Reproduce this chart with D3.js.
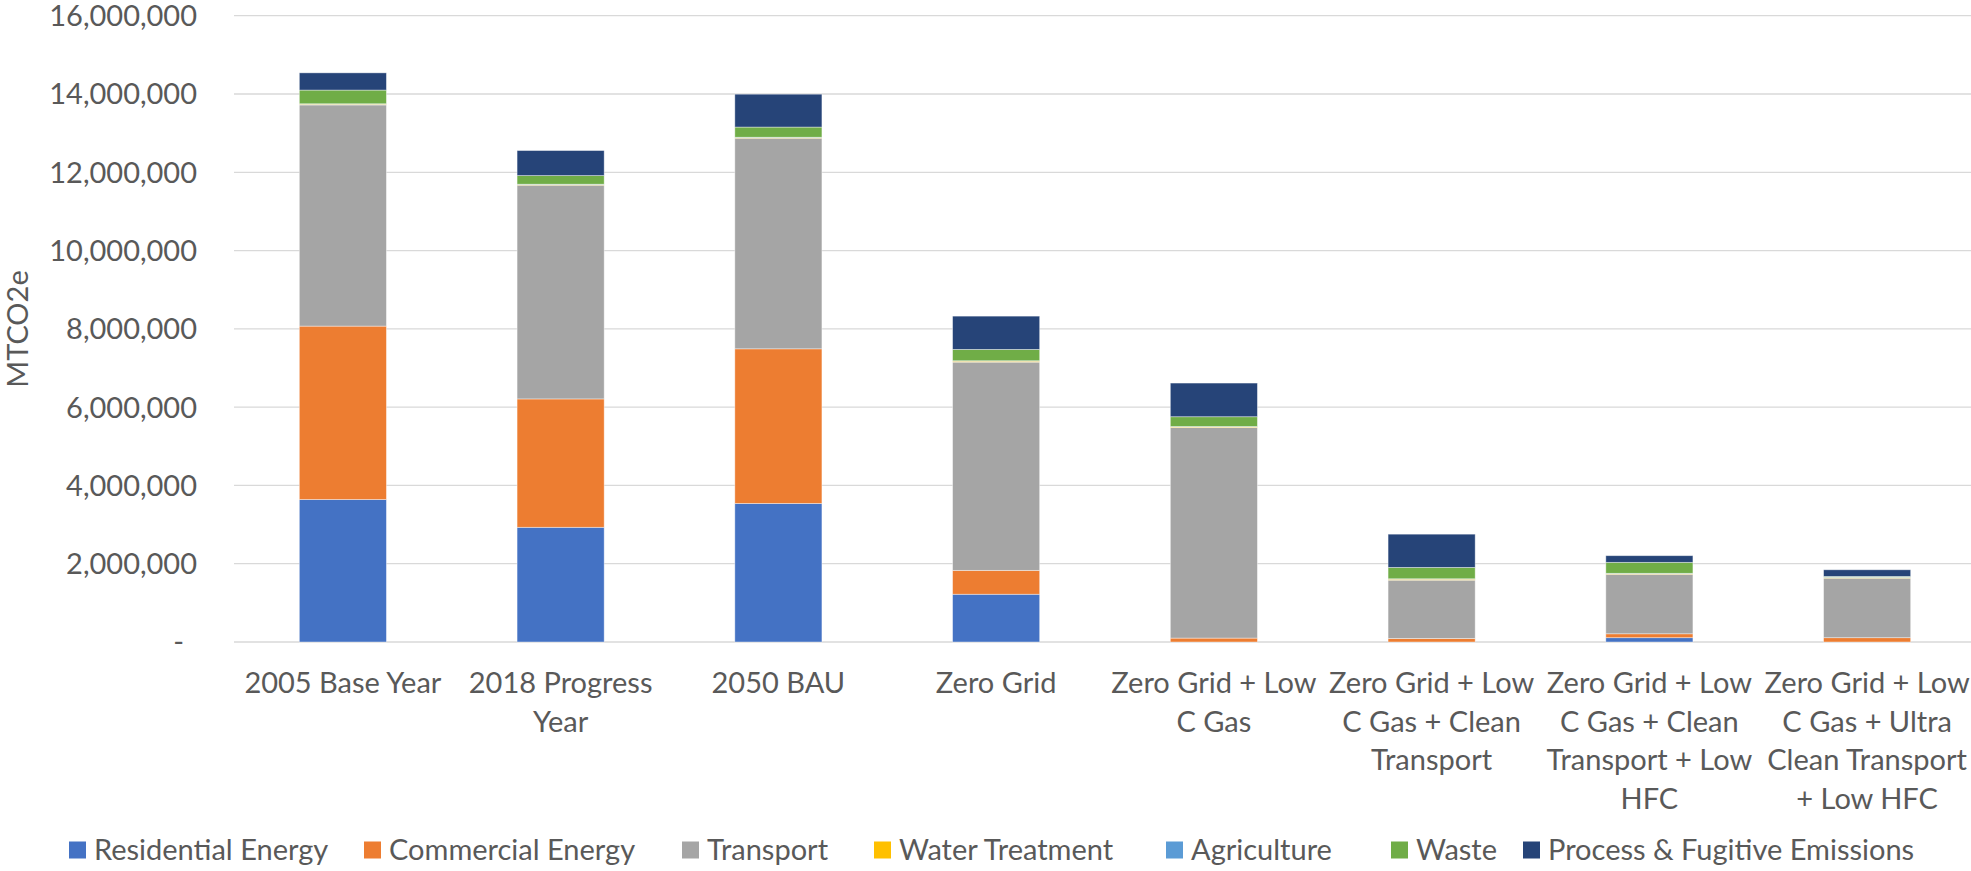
<!DOCTYPE html>
<html>
<head>
<meta charset="utf-8">
<script src="https://cdn.jsdelivr.net/npm/d3@7"></script>
<style>
    body { margin: 0; background: #fff; }
    text { font-family: Lato, "Open Sans", sans-serif; fill: #595959; }
</style>
</head>
<body>
<div id="container"></div>
<script>
// Categories (line breaks as they wrap under the axis)
const categories = [
    "2005 Base Year",
    "2018 Progress\nYear",
    "2050 BAU",
    "Zero Grid",
    "Zero Grid + Low\nC Gas",
    "Zero Grid + Low\nC Gas + Clean\nTransport",
    "Zero Grid + Low\nC Gas + Clean\nTransport + Low\nHFC",
    "Zero Grid + Low\nC Gas + Ultra\nClean Transport\n+ Low HFC"
];

// Series values (MTCO2e)
const residential = [3640000, 2930000, 3540000, 1220000, 0, 0, 110000, 0];
const commercial  = [4430000, 3280000, 3950000, 610000, 100000, 90000, 100000, 110000];
const transport   = [5650000, 5460000, 5380000, 5320000, 5380000, 1490000, 1520000, 1520000];
const water       = [20000, 15000, 15000, 25000, 15000, 25000, 15000, 15000];
const agriculture = [10000, 10000, 10000, 10000, 10000, 10000, 10000, 10000];
const waste       = [350000, 220000, 260000, 290000, 250000, 290000, 280000, 20000];
const process     = [440000, 640000, 840000, 850000, 860000, 850000, 170000, 170000];

const seriesNames = ["Residential Energy", "Commercial Energy", "Transport", "Water Treatment",
                     "Agriculture", "Waste", "Process & Fugitive Emissions"];
const seriesValues = [residential, commercial, transport, water, agriculture, waste, process];
const colors = ["#4472C4", "#ED7D31", "#A5A5A5", "#FFC000", "#5B9BD5", "#70AD47", "#264478"];

const yTicks = [0, 2000000, 4000000, 6000000, 8000000, 10000000, 12000000, 14000000, 16000000];

// Build table for the stack
const table = categories.map((c, i) => {
    const row = { category: c };
    seriesNames.forEach((s, j) => { row[s] = seriesValues[j][i]; });
    return row;
});

const width = 1971, height = 871;
const plot = { left: 234, right: 1976, top: 15.7, bottom: 642 };

const svg = d3.select("#container").append("svg")
    .attr("width", width)
    .attr("height", height);

const x = d3.scaleBand()
    .domain(categories)
    .range([plot.left, plot.right])
    .paddingInner(0.6)
    .paddingOuter(0.3);

const y = d3.scaleLinear()
    .domain([0, 16000000])
    .range([plot.bottom, plot.top]);

// Gridlines
svg.append("g")
    .selectAll("line")
    .data(yTicks)
    .enter().append("line")
    .attr("x1", plot.left)
    .attr("x2", width)
    .attr("y1", d => y(d))
    .attr("y2", d => y(d))
    .attr("stroke", "#d9d9d9")
    .attr("stroke-width", 1.3);

// Y tick labels
const fmt = d3.format(",");
svg.append("g")
    .selectAll("text")
    .data(yTicks)
    .enter().append("text")
    .attr("x", d => d === 0 ? 184 : 197)
    .attr("y", d => y(d))
    .attr("dy", "0.36em")
    .attr("text-anchor", "end")
    .style("font-size", "29px")
    .text(d => d === 0 ? "-" : fmt(d));

// Stacked bars
const stack = d3.stack().keys(seriesNames);
const layers = stack(table);

svg.append("g")
    .selectAll("g")
    .data(layers)
    .enter().append("g")
    .attr("fill", (d, i) => colors[i])
    .selectAll("rect")
    .data(d => d)
    .enter().append("rect")
    .attr("x", d => x(d.data.category))
    .attr("y", d => y(d[1]))
    .attr("width", x.bandwidth())
    .attr("height", d => Math.max(0, y(d[0]) - y(d[1])))
    .attr("stroke", "#fff")
    .attr("stroke-opacity", 0.5)
    .attr("stroke-width", 0.8);

// X labels
const xLabels = svg.append("g")
    .selectAll("text")
    .data(categories)
    .enter().append("text")
    .attr("text-anchor", "middle")
    .style("font-size", "29px")
    .attr("transform", d => `translate(${x(d) + x.bandwidth() / 2},693)`);

xLabels.selectAll("tspan")
    .data(d => d.split("\n"))
    .enter().append("tspan")
    .attr("x", 0)
    .attr("y", (d, i) => i * 38.5)
    .text(d => d);

// Y axis title
svg.append("text")
    .attr("transform", "translate(28,329) rotate(-90)")
    .attr("text-anchor", "middle")
    .style("font-size", "29px")
    .text("MTCO2e");

// Legend, swatches placed where they sit in the reference
const legendX = [69, 364, 682, 874, 1166, 1391, 1523];
const legend = svg.append("g")
    .selectAll("g")
    .data(seriesNames)
    .enter().append("g")
    .attr("transform", (d, i) => `translate(${legendX[i]},0)`);

legend.append("rect")
    .attr("x", 0)
    .attr("y", 841.5)
    .attr("width", 17)
    .attr("height", 17)
    .attr("fill", (d, i) => colors[i]);

legend.append("text")
    .attr("x", 25)
    .attr("y", 860)
    .style("font-size", "29px")
    .text(d => d);
</script>
</body>
</html>
